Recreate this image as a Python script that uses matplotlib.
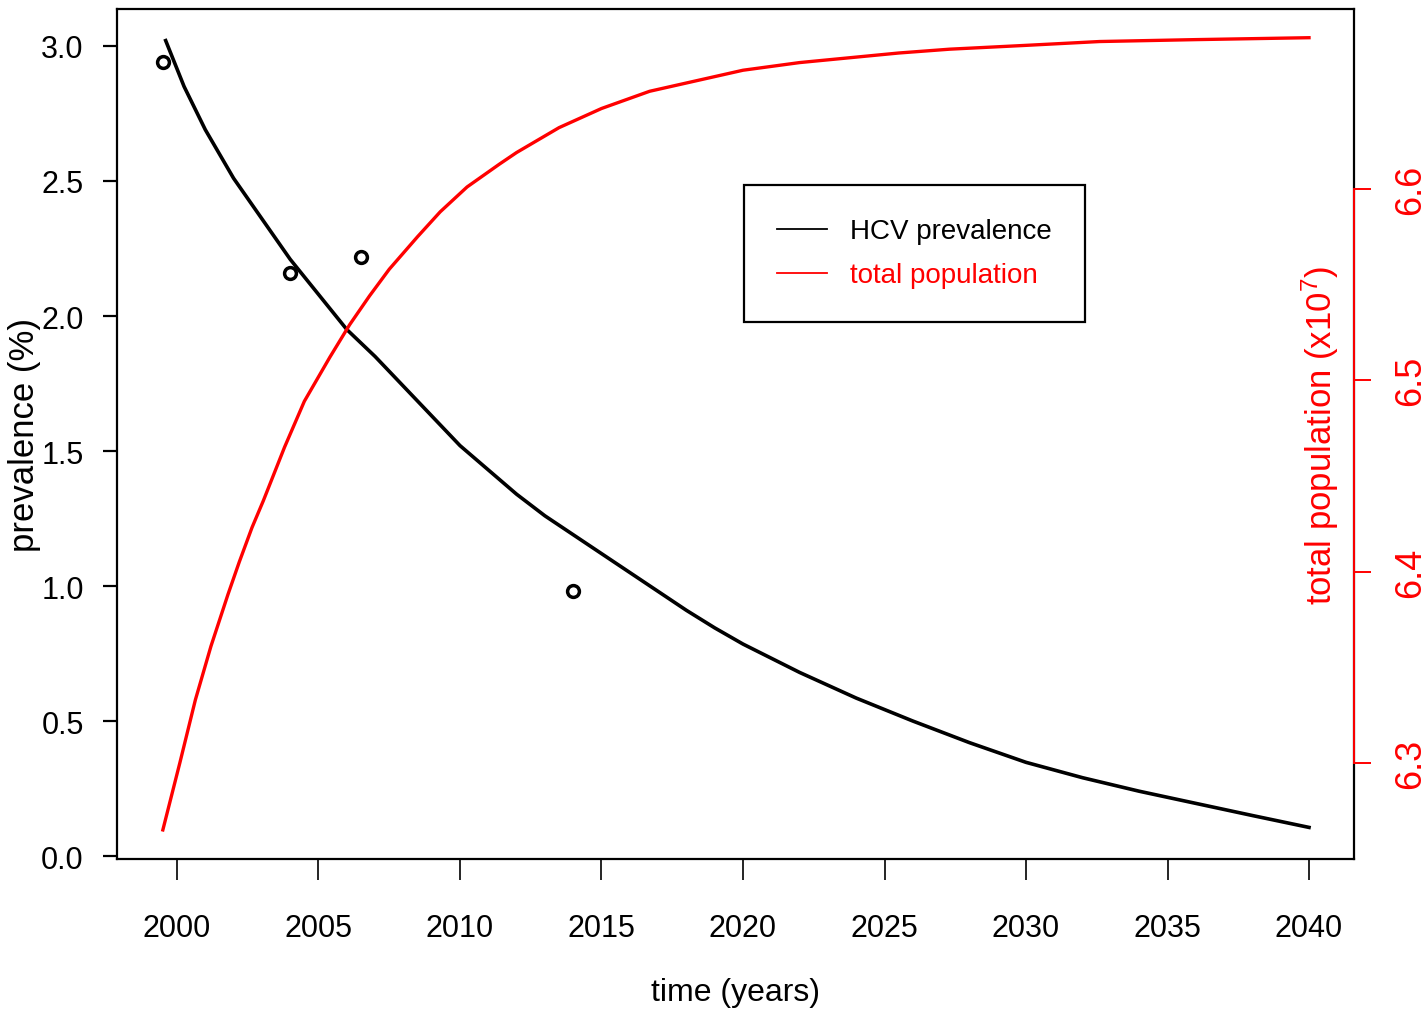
import matplotlib
matplotlib.use('Agg')
import matplotlib.pyplot as plt
from matplotlib import font_manager

# model output
years_prev = [1999.6, 2000.25, 2001, 2002, 2003, 2004, 2005, 2006, 2007, 2008,
              2009, 2010, 2011, 2012, 2013, 2014, 2015, 2016, 2017, 2018,
              2019, 2020, 2022, 2024, 2026, 2028, 2030, 2032, 2034, 2036,
              2038, 2040]
prevalence = [3.02, 2.85, 2.69, 2.51, 2.36, 2.21, 2.08, 1.95, 1.85, 1.74,
              1.63, 1.52, 1.43, 1.34, 1.26, 1.19, 1.12, 1.05, 0.98, 0.91,
              0.845, 0.785, 0.68, 0.585, 0.50, 0.42, 0.347, 0.29, 0.24, 0.195,
              0.15, 0.106]

years_pop = [1999.5, 2000.1, 2000.65, 2001.2, 2001.8, 2002.2, 2002.65, 2003.05,
             2003.8, 2004.5, 2005.4, 2006.1, 2006.8, 2007.5, 2008.5, 2009.3,
             2010.25, 2011.4, 2012, 2013.5, 2015, 2016.7, 2018.5, 2020, 2022,
             2025.5, 2027.3, 2030, 2032.6, 2036, 2040]
population = [6.265, 6.300, 6.333, 6.361, 6.388, 6.405, 6.423, 6.437,
              6.465, 6.489, 6.512, 6.529, 6.544, 6.558, 6.575, 6.588,
              6.601, 6.613, 6.619, 6.632, 6.642, 6.651, 6.657, 6.662, 6.666,
              6.671, 6.673, 6.675, 6.677, 6.678, 6.679]

# observed prevalence
obs_years = [1999.5, 2004, 2006.5, 2014]
obs_prev = [2.94, 2.16, 2.22, 0.98]

xticks = [2000, 2005, 2010, 2015, 2020, 2025, 2030, 2035, 2040]
yticks = [0.0, 0.5, 1.0, 1.5, 2.0, 2.5, 3.0]
pop_ticks = [6.3, 6.4, 6.5, 6.6]

names = {f.name for f in font_manager.fontManager.ttflist}
narrow = 'Liberation Sans Narrow' if 'Liberation Sans Narrow' in names else 'Liberation Sans'
plt.rcParams['font.family'] = ['Liberation Sans', 'DejaVu Sans']
plt.rcParams['mathtext.default'] = 'regular'

fig = plt.figure(figsize=(14.28, 10.12), dpi=100)
ax = fig.add_axes([117/1428, 1-860/1012, (1354-117)/1428, (860-10)/1012])

ax.plot(years_prev, prevalence, color='black', lw=2.6, label='HCV prevalence')
ax.plot(obs_years, obs_prev, 'o', mfc='none', mec='black', ms=8.5, mew=2.5)

ax.set_xlim(1997.88, 2041.59)
ax.set_ylim(-0.011, 3.137)
ax.set_xticks(xticks)
ax.set_yticks(yticks)
ax.set_yticklabels(['%.1f' % v for v in yticks])
for s in ax.spines.values():
    s.set_linewidth(1.6)
ax.tick_params(axis='x', direction='out', length=15, width=1.2, pad=24)
ax.tick_params(axis='y', direction='out', length=10, width=1.6, pad=14)
for lab in ax.get_xticklabels() + ax.get_yticklabels():
    lab.set_fontfamily(narrow)
    lab.set_fontsize(22)

ax.set_xlabel('time (years)', fontsize=23, fontfamily=narrow)
ax.xaxis.set_label_coords(0.5, (860-993)/850)
ax.xaxis.label.set_va('center')
ax.set_ylabel('prevalence (%)', fontsize=25)
ax.yaxis.set_label_coords((25-117)/1237, 0.5)
ax.yaxis.label.set_va('center')

ax2 = ax.twinx()
ax2.plot(years_pop, population, color='red', lw=2.4, label='total population')
ax2.set_ylim(6.2498, 6.694)
ax2.set_yticks(pop_ticks)
ax2.set_yticklabels(['%.1f' % v for v in pop_ticks], rotation=90, va='center')
ax2.tick_params(axis='y', colors='red', direction='out', length=12, width=1.4, pad=16, labelsize=26)
ax2.spines['right'].set_color('red')
ax2.spines['right'].set_linewidth(1.4)
ax2.spines['right'].set_bounds(6.3, 6.6)
for k in ['left', 'top', 'bottom']:
    ax2.spines[k].set_visible(False)
ax2.text((1320-117)/1237, 0.5, r'total population (x10$^7$)', color='red',
         fontsize=25, rotation=90, ha='center', va='center', transform=ax.transAxes)

h1, l1 = ax.get_legend_handles_labels()
h2, l2 = ax2.get_legend_handles_labels()
leg = ax2.legend(h1 + h2, l1 + l2, loc='upper left',
                 bbox_to_anchor=((744-117)/1237, (860-186)/850),
                 prop={'family': narrow, 'size': 20}, fancybox=False,
                 framealpha=1, edgecolor='black', handlelength=1.8,
                 handletextpad=0.8, borderpad=1.2, labelspacing=0.65,
                 borderaxespad=0)
leg.get_frame().set_linewidth(1.6)
for line in leg.get_lines():
    line.set_linewidth(1.3)
for txt, c in zip(leg.get_texts(), ['black', 'red']):
    txt.set_color(c)

fig.savefig('out.png', dpi=100)
plt.close()
